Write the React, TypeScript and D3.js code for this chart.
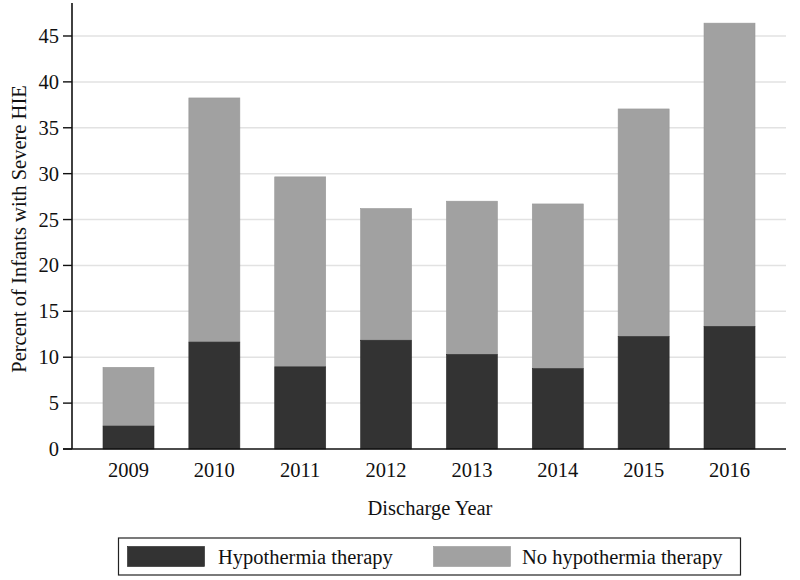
import React from "react";
import * as d3 from "d3";

const years = ["2009", "2010", "2011", "2012", "2013", "2014", "2015", "2016"];
const hypothermia = [2.5, 11.65, 8.95, 11.85, 10.3, 8.75, 12.25, 13.35];
const totals = [8.9, 38.25, 29.65, 26.2, 27.0, 26.7, 37.05, 46.4];
const yTicks = [0, 5, 10, 15, 20, 25, 30, 35, 40, 45];
const seriesNames = ["Hypothermia therapy", "No hypothermia therapy"];

const W = 800;
const H = 580;
const left = 72;
const right = 786;
const top = 3;
const bottom = 449;
const font = "'Liberation Serif', 'Times New Roman', serif";
const fs = 20.5;
const dark = "#333333";
const light = "#a1a1a1";

export default function App() {
  const x = d3.scaleBand<string>().domain(years).range([left, right]).paddingInner(0.406).paddingOuter(0.361);
  const y = d3.scaleLinear().domain([0, 45]).range([bottom, bottom - 45 * 9.178]);
  return (
    <svg width={W} height={H} style={{ position: "absolute", left: 0, top: 0, background: "#fff" }}>
      <rect x={0} y={0} width={W} height={H} fill="#fff" />
      {yTicks.filter((t) => t > 0).map((t) => (
        <line key={"g" + t} x1={left} x2={right} y1={y(t)} y2={y(t)} stroke="#e2e2e2" strokeWidth={1.5} />
      ))}
      {years.map((yr, i) => (
        <g key={yr}>
          <rect x={x(yr)} y={y(totals[i])} width={x.bandwidth()} height={y(hypothermia[i]) - y(totals[i])} fill={light} stroke="#999" strokeWidth={0.6} />
          <rect x={x(yr)} y={y(hypothermia[i])} width={x.bandwidth()} height={bottom - y(hypothermia[i])} fill={dark} stroke="#2a2a2a" strokeWidth={0.6} />
          <text x={(x(yr) as number) + x.bandwidth() / 2} y={477} textAnchor="middle" fontFamily={font} fontSize={fs} fill="#111">{yr}</text>
        </g>
      ))}
      <line x1={left} x2={left} y1={top} y2={bottom} stroke="#111" strokeWidth={1.6} />
      <line x1={63} x2={right} y1={bottom} y2={bottom} stroke="#111" strokeWidth={1.6} />
      {yTicks.map((t) => (
        <g key={"t" + t}>
          <line x1={63} x2={left} y1={y(t)} y2={y(t)} stroke="#111" strokeWidth={1.4} />
          <text x={59} y={y(t) + 7} textAnchor="end" fontFamily={font} fontSize={fs} fill="#111">{t}</text>
        </g>
      ))}
      <text transform={`translate(26,${(top + bottom) / 2 + 3}) rotate(-90)`} textAnchor="middle" fontFamily={font} fontSize={fs} fill="#111">Percent of Infants with Severe HIE</text>
      <text x={430} y={515} textAnchor="middle" fontFamily={font} fontSize={fs} fill="#111">Discharge Year</text>
      <rect x={118.5} y={538} width={622} height={37} fill="#fff" stroke="#222" strokeWidth={1.2} />
      <rect x={127.5} y={546.5} width={77} height={20} fill={dark} stroke="#222" strokeWidth={0.6} />
      <text x={218} y={564} fontFamily={font} fontSize={fs} fill="#111">{seriesNames[0]}</text>
      <rect x={433.5} y={546.5} width={77} height={20} fill={light} stroke="#999" strokeWidth={0.6} />
      <text x={522} y={564} fontFamily={font} fontSize={fs} fill="#111">{seriesNames[1]}</text>
    </svg>
  );
}
